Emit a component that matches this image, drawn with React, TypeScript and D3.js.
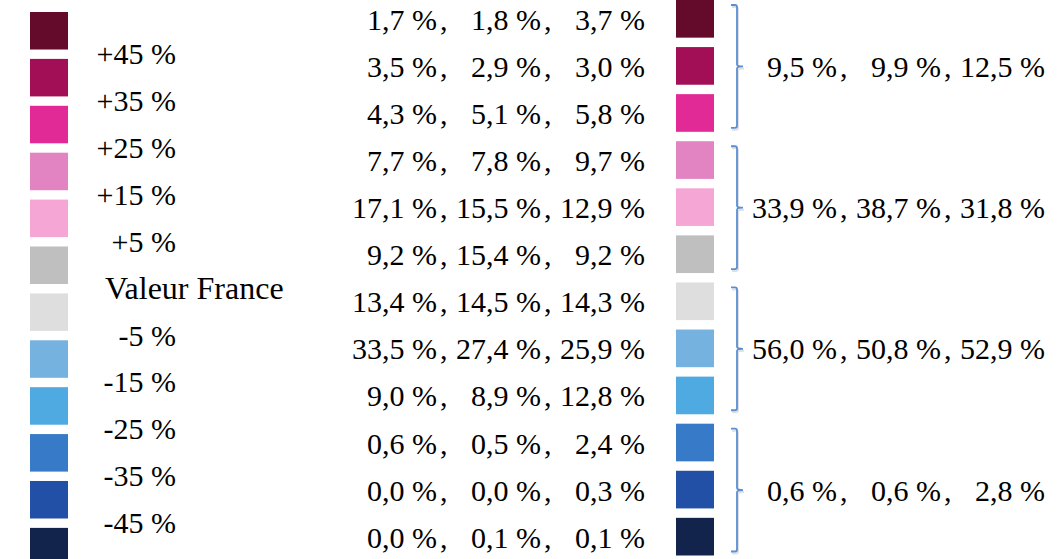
import * as d3 from 'd3'

// legend scale (left column), one label per boundary between swatches
const scaleLabels = ['+45 %', '+35 %', '+25 %', '+15 %', '+5 %', 'Valeur France', '-5 %', '-15 %', '-25 %', '-35 %', '-45 %']

const classColors = [
  '#640B2B', '#A30F57', '#E22A96', '#E283C2', '#F6A6D5', '#BFBFBF',
  '#DEDEDE', '#76B2E0', '#4FAAE2', '#377AC8', '#2250A6', '#12244C',
]

// three values per class (one per period)
const classValues: number[][] = [
  [1.7, 1.8, 3.7],
  [3.5, 2.9, 3.0],
  [4.3, 5.1, 5.8],
  [7.7, 7.8, 9.7],
  [17.1, 15.5, 12.9],
  [9.2, 15.4, 9.2],
  [13.4, 14.5, 14.3],
  [33.5, 27.4, 25.9],
  [9.0, 8.9, 12.8],
  [0.6, 0.5, 2.4],
  [0.0, 0.0, 0.3],
  [0.0, 0.1, 0.1],
]

// totals per group of three classes
const groupTotals: number[][] = [
  [9.5, 9.9, 12.5],
  [33.9, 38.7, 31.8],
  [56.0, 50.8, 52.9],
  [0.6, 0.6, 2.8],
]

const W = 1057
const H = 559
const FONT = 'Liberation Serif'
const BRACE = '#5B8FD3'

const fmt = (v: number) => d3.format('.1f')(v).replace('.', ',') + ' %'

// one row of three right-aligned values separated by commas
function ValueRow({ values, col, y }: { values: number[]; col: d3.ScalePoint<number>; y: number }) {
  return (
    <g>
      {values.map((v, j) => (
        <g key={j}>
          <text x={col(j)} y={y} fontSize={30} fontFamily={FONT} textAnchor="end">{fmt(v)}</text>
          {j < values.length - 1 && (
            <text x={col(j)! + 3} y={y} fontSize={30} fontFamily={FONT}>,</text>
          )}
        </g>
      ))}
    </g>
  )
}

export default function App() {
  const idx = d3.range(classColors.length)

  const yLeft = d3.scaleBand<number>().domain(idx).range([12, 565.4]).paddingInner(0.2)
  const yRight = d3.scaleBand<number>().domain(idx).range([0, 555.5]).paddingInner(0.2)
  const colMid = d3.scalePoint<number>().domain([0, 1, 2]).range([437, 645])
  const colGrp = d3.scalePoint<number>().domain([0, 1, 2]).range([837, 1045])

  const bw = yLeft.bandwidth()
  const gap = yLeft.step() - bw

  const groupTop = (g: number) => yRight(g * 3)!
  const groupBot = (g: number) => yRight(g * 3 + 2)! + yRight.bandwidth()

  const bracePath = (g: number) => {
    const t = groupTop(g) + 5
    const b = groupBot(g) - 4
    const m = (t + b) / 2
    const x0 = 731, x1 = 737, x2 = 743
    return `M${x0},${t} L${x1 - 2},${t} Q${x1},${t} ${x1},${t + 2} L${x1},${m - 2} Q${x1},${m} ${x2},${m} Q${x1},${m} ${x1},${m + 2} L${x1},${b - 2} Q${x1},${b} ${x1 - 2},${b} L${x0},${b}`
  }

  return (
    <svg width={W} height={H} style={{ position: 'absolute', left: 0, top: 0, background: '#fff' }}
      fontFamily={FONT}>
      {/* left legend */}
      {idx.map(i => (
        <rect key={'l' + i} x={30} y={yLeft(i)} width={38} height={bw} fill={classColors[i]} />
      ))}
      {scaleLabels.map((s, i) => {
        const yb = yLeft(i)! + bw + gap / 2
        const isPct = s.includes('%')
        return (
          <text key={'s' + i} x={isPct ? 176 : 105} y={yb + 10} fontSize={isPct ? 30 : 32}
            fontFamily={FONT} textAnchor={isPct ? 'end' : 'start'}>{s}</text>
        )
      })}

      {/* per-class values + swatches */}
      {classValues.map((row, i) => (
        <g key={'r' + i}>
          <ValueRow values={row} col={colMid} y={yRight(i)! + yRight.bandwidth() / 2 + 11} />
          <rect x={676} y={yRight(i)} width={38} height={yRight.bandwidth()} fill={classColors[i]} />
        </g>
      ))}

      {/* braces and group totals */}
      {groupTotals.map((row, g) => {
        const mid = (groupTop(g) + groupBot(g)) / 2
        return (
          <g key={'g' + g}>
            <path d={bracePath(g)} transform="translate(1,2)" fill="none" stroke="#000" strokeOpacity={0.12} strokeWidth={2} />
            <path d={bracePath(g)} fill="none" stroke={BRACE} strokeWidth={1.8} />
            <ValueRow values={row} col={colGrp} y={mid + 11} />
          </g>
        )
      })}
    </svg>
  )
}
